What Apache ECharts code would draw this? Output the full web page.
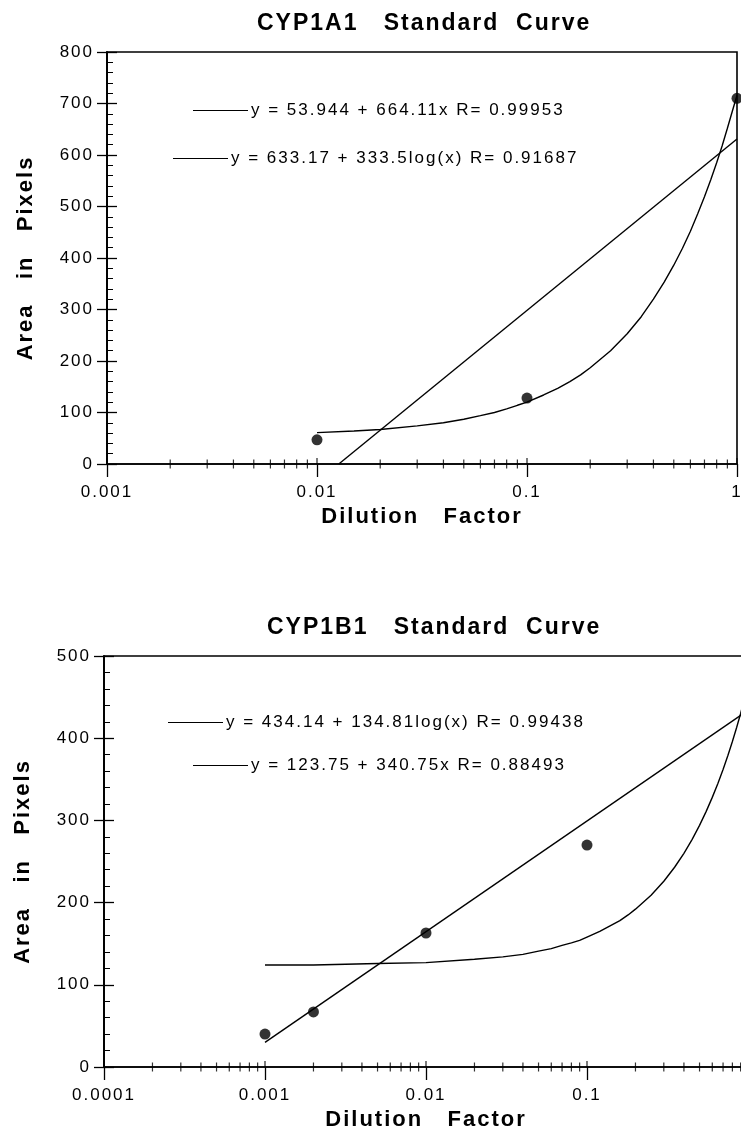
<!DOCTYPE html>
<html><head><meta charset="utf-8">
<script src="https://cdn.jsdelivr.net/npm/echarts@6/dist/echarts.min.js"></script>
<style>
html,body{margin:0;padding:0;background:#fff}
#c{width:741px;height:1138px;overflow:hidden}
</style>
</head><body><div id="c"></div>
<script>
// Old typeset charts use wide tracking: draw every canvas text with 2px letter spacing.
(function () {
  const proto = CanvasRenderingContext2D.prototype;
  const orig = proto.fillText;
  proto.fillText = function () {
    if ('letterSpacing' in this) this.letterSpacing = '2px';
    return orig.apply(this, arguments);
  };
})();

// ---------- texts ----------
const titleA = 'CYP1A1   Standard  Curve';
const titleB = 'CYP1B1   Standard  Curve';
const xNameText = 'Dilution   Factor';
const yNameText = 'Area   in   Pixels';

// ---------- chart A (CYP1A1) ----------
const xTickValuesA = [0.001, 0.01, 0.1, 1];
const xTickLabelsA = ['0.001', '0.01', '0.1', '1'];
const xMinorA = [0.002,0.003,0.004,0.005,0.006,0.007,0.008,0.009,
                 0.02,0.03,0.04,0.05,0.06,0.07,0.08,0.09,
                 0.2,0.3,0.4,0.5,0.6,0.7,0.8,0.9];
const pointsAx = [0.01, 0.1, 1];
const pointsAy = [47, 128, 710];
const linFitNameA = 'y = 53.944 + 664.11x R= 0.99953';
const linFitAx = [0.01,0.015,0.02,0.03,0.04,0.05,0.06,0.07,0.08,0.09,0.1,0.12,0.14,0.16,0.18,0.2,
                  0.25,0.3,0.35,0.4,0.45,0.5,0.55,0.6,0.65,0.7,0.75,0.8,0.85,0.9,0.95,1];
const linFitAy = [61,64,67,74,80,87,94,100,107,114,120,134,147,160,173,187,
                  220,253,286,320,353,386,419,452,486,519,552,585,618,652,685,716];
const logFitNameA = 'y = 633.17 + 333.5log(x) R= 0.91687';
const logFitAx = [0.0127, 1];
const logFitAy = [0, 631];

// ---------- chart B (CYP1B1) ----------
const xTickValuesB = [0.0001, 0.001, 0.01, 0.1, 1];
const xTickLabelsB = ['0.0001', '0.001', '0.01', '0.1', '1'];
const xMinorB = [0.0002,0.0003,0.0004,0.0005,0.0006,0.0007,0.0008,0.0009,
                 0.002,0.003,0.004,0.005,0.006,0.007,0.008,0.009,
                 0.02,0.03,0.04,0.05,0.06,0.07,0.08,0.09,
                 0.2,0.3,0.4,0.5,0.6,0.7,0.8,0.9];
const pointsBx = [0.001, 0.002, 0.01, 0.1];
const pointsBy = [40, 67, 163, 270];
const logFitNameB = 'y = 434.14 + 134.81log(x) R= 0.99438';
const logFitBx = [0.001, 1];
const logFitBy = [30, 434];
const linFitNameB = 'y = 123.75 + 340.75x R= 0.88493';
const linFitBx = [0.001,0.002,0.005,0.01,0.02,0.03,0.04,0.05,0.06,0.07,0.08,0.09,0.1,0.12,0.14,0.16,0.18,0.2,
                  0.25,0.3,0.35,0.4,0.45,0.5,0.55,0.6,0.65,0.7,0.75,0.8,0.85,0.9,0.95,1];
const linFitBy = [124,124,126,127,131,134,137,141,144,148,151,154,158,165,172,178,185,192,
                  209,226,243,260,277,294,311,328,345,362,379,396,413,430,448,465];

// ---------- helpers ----------
const FONT = 'Liberation Sans';
const BLACK = '#000';
const zip = (xs, ys) => xs.map((x, i) => [x, ys[i]]);
const labelFor = (vals, labels) => v => {
  const i = vals.findIndex(m => Math.abs(Math.log10(m) - Math.log10(v)) < 1e-6);
  return i >= 0 ? labels[i] : '';
};

function makeX(gridIndex, min, max, vals, labels) {
  return {
    type: 'log', logBase: 10, gridIndex, min, max,
    name: xNameText, nameLocation: 'middle', nameGap: 42,
    nameTextStyle: { fontFamily: FONT, fontWeight: 'bold', fontSize: 22, color: BLACK },
    axisLine: { show: true, onZero: false, lineStyle: { color: BLACK, width: 1.6 } },
    axisTick: { show: true, inside: false, length: 13, lineStyle: { color: BLACK, width: 1.3 } },
    axisLabel: { margin: 20, fontFamily: FONT, fontSize: 17, color: BLACK, formatter: labelFor(vals, labels) },
    splitLine: { show: false }, minorTick: { show: false }
  };
}
function makeY(gridIndex, max, withLabels) {
  const base = {
    type: 'value', gridIndex, min: 0, max, interval: 100, position: 'left', offset: 0,
    axisLine: { show: true, onZero: false, lineStyle: { color: BLACK, width: 1.6 } },
    splitLine: { show: false }
  };
  if (withLabels) {
    return Object.assign(base, {
      name: yNameText, nameLocation: 'middle', nameGap: 70,
      nameTextStyle: { fontFamily: FONT, fontWeight: 'bold', fontSize: 22, color: BLACK },
      axisTick: { show: true, inside: false, length: 10, lineStyle: { color: BLACK, width: 1.3 } },
      axisLabel: { margin: 13, fontFamily: FONT, fontSize: 17, color: BLACK }
    });
  }
  return Object.assign(base, {
    axisTick: { show: true, inside: true, length: 10, lineStyle: { color: BLACK, width: 1.3 } },
    minorTick: { show: true, splitNumber: 5, length: 6, lineStyle: { color: BLACK, width: 1 } },
    axisLabel: { show: false }
  });
}
function legend(name, left, top) {
  return {
    data: [name], top, left, icon: 'rect', itemWidth: 55, itemHeight: 1.2, padding: 0,
    selectedMode: false, textStyle: { fontFamily: FONT, fontSize: 17, color: BLACK, padding: [0, 0, 0, -2] }
  };
}
function fitLine(name, xi, yi, data) {
  return { type: 'line', name, xAxisIndex: xi, yAxisIndex: yi, data, showSymbol: false,
    color: BLACK, lineStyle: { color: BLACK, width: 1.4 }, silent: true, clip: false, z: 3 };
}
function dots(name, xi, yi, data) {
  return { type: 'scatter', name, xAxisIndex: xi, yAxisIndex: yi, data, symbol: 'circle',
    symbolSize: 11, itemStyle: { color: BLACK }, clip: false, silent: true, z: 4 };
}
function ticks(name, xi, yi, xs, size, offset) {
  return { type: 'scatter', name, xAxisIndex: xi, yAxisIndex: yi, data: xs.map(x => [x, 0]),
    symbol: 'rect', symbolSize: size, symbolOffset: [0, offset], itemStyle: { color: BLACK },
    clip: false, silent: true, z: 5 };
}

const option = {
  animation: false,
  backgroundColor: '#fff',
  title: [
    { text: titleA, left: 257, top: 12, padding: 0, textStyle: { fontFamily: FONT, fontWeight: 'bold', fontSize: 23, color: BLACK } },
    { text: titleB, left: 267, top: 616, padding: 0, textStyle: { fontFamily: FONT, fontWeight: 'bold', fontSize: 23, color: BLACK } }
  ],
  legend: [
    legend(linFitNameA, 193, 102),
    legend(logFitNameA, 173, 150),
    legend(logFitNameB, 168, 714),
    legend(linFitNameB, 193, 757)
  ],
  grid: [
    { left: 107, top: 52, width: 630, height: 412, outerBoundsMode: 'none', containLabel: false,
      show: true, borderColor: BLACK, borderWidth: 1.6, backgroundColor: 'transparent' },
    { left: 104, top: 656, width: 644, height: 411, outerBoundsMode: 'none', containLabel: false,
      show: true, borderColor: BLACK, borderWidth: 1.6, backgroundColor: 'transparent' }
  ],
  xAxis: [
    makeX(0, 0.001, 1, xTickValuesA, xTickLabelsA),
    makeX(1, 0.0001, 1, xTickValuesB, xTickLabelsB)
  ],
  yAxis: [
    makeY(0, 800, true), makeY(0, 800, false),
    makeY(1, 500, true), makeY(1, 500, false)
  ],
  series: [
    fitLine(linFitNameA, 0, 0, zip(linFitAx, linFitAy)),
    fitLine(logFitNameA, 0, 0, zip(logFitAx, logFitAy)),
    dots('CYP1A1 data', 0, 0, zip(pointsAx, pointsAy)),
    ticks('minor ticks A', 0, 0, xMinorA, [1.2, 9], 0),
    ticks('major ticks A', 0, 0, xTickValuesA, [1.3, 6], -3),
    fitLine(logFitNameB, 1, 2, zip(logFitBx, logFitBy)),
    fitLine(linFitNameB, 1, 2, zip(linFitBx, linFitBy)),
    dots('CYP1B1 data', 1, 2, zip(pointsBx, pointsBy)),
    ticks('minor ticks B', 1, 2, xMinorB, [1.2, 9], 0),
    ticks('major ticks B', 1, 2, xTickValuesB, [1.3, 6], -3)
  ]
};
const chart = echarts.init(document.getElementById('c'), null, { renderer: 'canvas' });
chart.setOption(option);
</script>
</body></html>
